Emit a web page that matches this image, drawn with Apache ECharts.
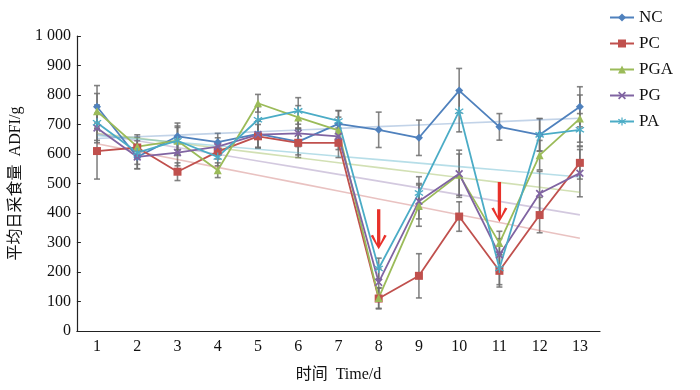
<!DOCTYPE html>
<html><head><meta charset="utf-8">
<script src="https://cdn.jsdelivr.net/npm/echarts@6/dist/echarts.min.js"></script>
<style>html,body{margin:0;padding:0;background:#fff}#c{width:700px;height:390px}</style>
</head><body><div id="c"></div>
<script>
var days = ['1','2','3','4','5','6','7','8','9','10','11','12','13'];
var yTicks = [0,100,200,300,400,500,600,700,800,900,1000];
var NC  = [760, 590, 660, 640, 668, 642, 702, 682, 655, 815, 692, 665, 760];
var PC  = [610, 622, 540, 608, 660, 638, 638, 110, 187, 388, 204, 393, 570];
var PGA = [745, 625, 645, 545, 772, 724, 680, 112, 425, 530, 298, 596, 720];
var PG  = [688, 590, 605, 625, 666, 670, 660, 165, 440, 533, 258, 466, 535];
var PA  = [706, 605, 645, 590, 716, 746, 712, 212, 468, 745, 212, 665, 682];
var NC_err  = [72, 40, 45, 30, 45, 45, 45, 60, 60, 75, 45, 55, 68];
var PC_err  = [95, 35, 30, 25, 40, 50, 50, 35, 75, 50, 55, 60, 55];
var PGA_err = [60, 40, 45, 25, 30, 40, 45, 35, 70, 70, 40, 50, 80];
var PG_err  = [50, 40, 45, 30, 45, 45, 45, 45, 60, 80, 55, 75, 80];
var PA_err  = [60, 40, 50, 30, 45, 45, 35, 35, 55, 70, 55, 55, 55];
var names = ['NC','PC','PGA','PG','PA'];
var arrowDays = ['8','11'];
var arrowMid = [345, 437];

var serif = '"Liberation Serif","Times New Roman","Noto Sans CJK SC",serif';
var colors = ['#4F81BD','#C0504D','#9BBB59','#8064A2','#4BACC6'];
var lightColors = ['rgba(79,129,189,0.35)','rgba(192,80,77,0.35)','rgba(155,187,89,0.45)','rgba(128,100,162,0.35)','rgba(75,172,198,0.4)'];
var symbols = ['diamond','rect','triangle',
  'path://M0,1.5 L1.5,0 L5,3.5 L8.5,0 L10,1.5 L6.5,5 L10,8.5 L8.5,10 L5,6.5 L1.5,10 L0,8.5 L3.5,5 Z',
  'path://M4.3,0 L5.7,0 L5.7,3.8 L8.9,1.6 L9.7,2.8 L6.4,5 L9.7,7.2 L8.9,8.4 L5.7,6.2 L5.7,10 L4.3,10 L4.3,6.2 L1.1,8.4 L0.3,7.2 L3.6,5 L0.3,2.8 L1.1,1.6 L4.3,3.8 Z'];
var symSizes = [8, 8, 8, 8, 9];
var vals = [NC, PC, PGA, PG, PA];
var errs = [NC_err, PC_err, PGA_err, PG_err, PA_err];

function trend(arr) {
  var n = arr.length, mx = 0, my = 0, i;
  for (i = 0; i < n; i++) { mx += i; my += arr[i]; }
  mx /= n; my /= n;
  var sxy = 0, sxx = 0;
  for (i = 0; i < n; i++) { sxy += (i - mx) * (arr[i] - my); sxx += (i - mx) * (i - mx); }
  var b = sxy / sxx, a = my - b * mx;
  var out = [];
  for (i = 0; i < n; i++) out.push(+(a + b * i).toFixed(2));
  return out;
}

var series = [];
var errData = [];
for (var s = 0; s < 5; s++) for (var i = 0; i < days.length; i++)
  errData.push([i, vals[s][i] - errs[s][i], vals[s][i] + errs[s][i]]);
series.push({
  type: 'custom', name: 'err', z: 1, silent: true,
  data: errData,
  encode: { x: 0, y: [1, 2] },
  renderItem: function (params, api) {
    var x = api.value(0);
    var lo = api.coord([x, api.value(1)]);
    var hi = api.coord([x, api.value(2)]);
    var w = 3;
    var st = { stroke: 'rgba(110,110,110,0.85)', lineWidth: 1.6, fill: null };
    return { type: 'group', children: [
      { type: 'line', shape: { x1: lo[0], y1: lo[1], x2: hi[0], y2: hi[1] }, style: st },
      { type: 'line', shape: { x1: lo[0]-w, y1: lo[1], x2: lo[0]+w, y2: lo[1] }, style: st },
      { type: 'line', shape: { x1: hi[0]-w, y1: hi[1], x2: hi[0]+w, y2: hi[1] }, style: st }
    ]};
  }
});
for (var s2 = 0; s2 < 5; s2++) {
  series.push({
    type: 'line', name: names[s2] + '_trend', data: trend(vals[s2]), showSymbol: false, silent: true, z: 2,
    lineStyle: { color: lightColors[s2], width: 1.6 }, itemStyle: { color: lightColors[s2] }
  });
}
for (var s3 = 0; s3 < 5; s3++) {
  series.push({
    type: 'line', name: names[s3], data: vals[s3], z: 5,
    symbol: symbols[s3], symbolSize: symSizes[s3], showAllSymbol: true,
    lineStyle: { color: colors[s3], width: 1.8 },
    itemStyle: { color: colors[s3] }
  });
}
series.push({
  type: 'line', name: 'arrows', data: [], z: 10, silent: true,
  markPoint: {
    symbol: 'path://M3.9,0 L6.1,0 L6.1,34 L8.7,25.5 L10.3,26.5 L5,40 L-0.3,26.5 L1.3,25.5 L3.9,34 Z',
    symbolSize: [16, 40], symbolKeepAspect: false,
    itemStyle: { color: '#E8312A' }, label: { show: false },
    data: arrowDays.map(function (d, k) { return { coord: [d, arrowMid[k]] }; })
  }
});

var chart = echarts.init(document.getElementById('c'));
chart.setOption({
  animation: false,
  backgroundColor: '#fff',
  grid: { left: 73, right: 100, top: 36, bottom: 59 },
  legend: {
    data: names, orient: 'vertical', left: 604, top: 4,
    itemWidth: 24, itemHeight: 10, itemGap: 9,
    textStyle: { fontFamily: serif, fontSize: 17, color: '#111' }
  },
  xAxis: {
    type: 'category', data: days, boundaryGap: true,
    name: '时间  Time/d', nameLocation: 'middle', nameGap: 36,
    nameTextStyle: { fontFamily: serif, fontSize: 16, color: '#111' },
    axisLine: { lineStyle: { color: '#222', width: 1.2 } },
    axisTick: { inside: true, length: 4, lineStyle: { color: '#222' } },
    axisLabel: { fontFamily: serif, fontSize: 16, color: '#111', margin: 8 },
    splitLine: { show: false }
  },
  yAxis: {
    type: 'value', min: yTicks[0], max: yTicks[yTicks.length - 1], interval: 100,
    name: '平均日采食量  ADFI/g', nameLocation: 'middle', nameGap: 52,
    nameTextStyle: { fontFamily: serif, fontSize: 16, color: '#111' },
    axisLine: { show: true, lineStyle: { color: '#222', width: 1.2 } },
    axisTick: { show: true, inside: true, length: 4, lineStyle: { color: '#222' } },
    axisLabel: { fontFamily: serif, fontSize: 16, color: '#111', margin: 6,
      formatter: function (v) { return v >= 1000 ? String(v).replace(/(\d)(\d{3})$/, '$1 $2') : String(v); } },
    splitLine: { show: false }
  },
  series: series
});
</script></body></html>
